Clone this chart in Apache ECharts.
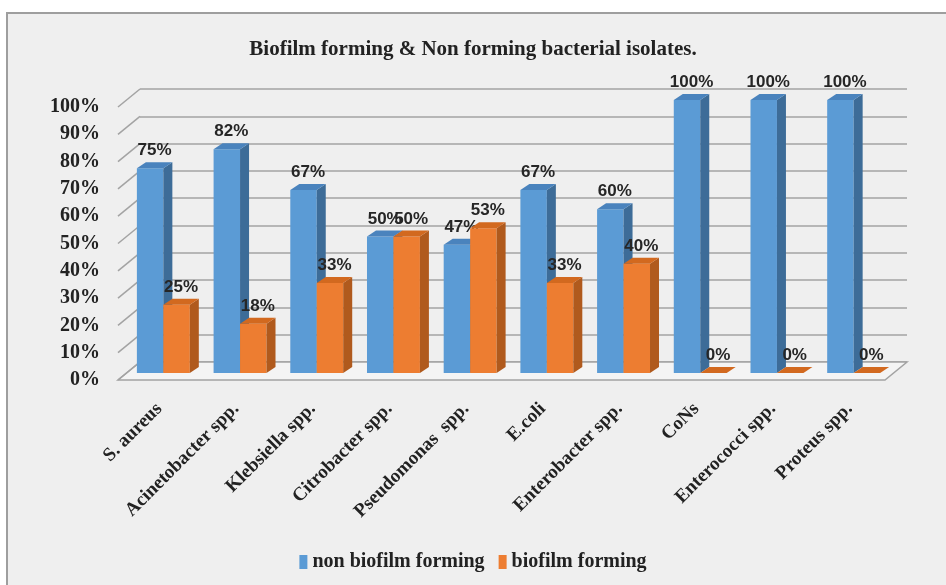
<!DOCTYPE html>
<html><head><meta charset="utf-8">
<script src="https://cdn.jsdelivr.net/npm/echarts@6/dist/echarts.min.js"></script>
<style>html,body{margin:0;padding:0;background:#fff}#c{width:946px;height:585px}</style>
</head><body><div id="c"></div>
<script>
const categories = ['S. aureus','Acinetobacter spp.','Klebsiella spp.','Citrobacter spp.','Pseudomonas  spp.','E.coli','Enterobacter spp.','CoNs','Enterococci spp.','Proteus spp.'];
const nonBiofilm = [75,82,67,50,47,67,60,100,100,100];
const biofilm = [25,18,33,50,53,33,40,0,0,0];
const yTicks = [0,10,20,30,40,50,60,70,80,90,100];

const SERIF = '"Liberation Serif","Times New Roman",serif';
const DEPTH = [22,-18];
const BD = [9,-6];

function barRenderer(side, cFront, cSide, cTop) {
  return function(params, api) {
    const cat = api.value(0), v = api.value(1);
    const base = api.coord([cat, 0]);
    const top = api.coord([cat, v]);
    const cw = api.size([1, 0])[0];
    const w = cw * 0.345;
    const x0 = side === 0 ? base[0] - w : base[0];
    const yt = top[1], yb = base[1];
    const ch = [];
    if (yb - yt > 0.5) {
      ch.push({type:'rect', shape:{x:x0, y:yt, width:w, height:yb-yt}, style:{fill:cFront}});
      ch.push({type:'polygon', shape:{points:[[x0+w,yt],[x0+w+BD[0],yt+BD[1]],[x0+w+BD[0],yb+BD[1]],[x0+w,yb]]}, style:{fill:cSide}});
    }
    ch.push({type:'polygon', shape:{points:[[x0,yt],[x0+BD[0],yt+BD[1]],[x0+w+BD[0],yt+BD[1]],[x0+w,yt]]}, style:{fill:cTop}});
    ch.push({type:'text', style:{text:v+'%', x:x0+w/2+BD[0]/2, y:yt+BD[1]-3, textAlign:'center', textVerticalAlign:'bottom',
      font:'bold 17px "Liberation Sans", Arial, sans-serif', fill:'#262626'}});
    return {type:'group', children:ch};
  };
}

const chart = echarts.init(document.getElementById('c'), null, {renderer:'canvas'});
chart.setOption({
  backgroundColor:'#ffffff',
  animation:false,
  graphic:[{type:'rect', z:-10, shape:{x:7,y:13,width:960,height:600}, style:{fill:'#efefef', stroke:'#9e9e9e', lineWidth:2}}],
  title:{text:'Biofilm forming & Non forming bacterial isolates.', left:'center', top:34,
    textStyle:{fontFamily:SERIF, fontWeight:'bold', fontSize:21, color:'#222'}},
  legend:{bottom:8, left:'center', itemWidth:8, itemHeight:14, itemGap:14,
    textStyle:{fontFamily:SERIF, fontWeight:'bold', fontSize:20, color:'#222'},
    data:[{name:'non biofilm forming', icon:'rect', itemStyle:{color:'#5b9bd5'}},{name:'biofilm forming', icon:'rect', itemStyle:{color:'#ed7d31'}}]},
  grid:[
    {left:118, right:61, top:107, bottom:205},
    {left:140, right:39, top:89, bottom:223},
    {left:125, right:54, top:100, bottom:212},
    {left:121, right:58, top:100, bottom:212}
  ],
  xAxis:[
    {gridIndex:0, type:'category', data:categories, show:false},
    {gridIndex:1, type:'category', data:categories, show:false},
    {gridIndex:2, type:'category', data:categories, show:false},
    {gridIndex:3, type:'category', data:categories, axisLine:{show:false}, axisTick:{show:false},
      axisLabel:{interval:0, rotate:45, margin:33, fontFamily:SERIF, fontWeight:'bold', fontSize:19, color:'#222'}}
  ],
  yAxis:[
    {gridIndex:0, type:'value', min:0, max:100, interval:10, axisLine:{show:false}, axisTick:{show:false}, splitLine:{show:false},
      axisLabel:{formatter:'{value}%', margin:18, fontFamily:SERIF, fontWeight:'bold', fontSize:20, color:'#222'}},
    {gridIndex:1, type:'value', min:0, max:100, interval:10, axisLine:{show:false}, axisTick:{show:false}, axisLabel:{show:false},
      splitLine:{lineStyle:{color:'#a3a3a3', width:1.5}}},
    {gridIndex:2, type:'value', min:0, max:100, interval:10, show:false},
    {gridIndex:3, type:'value', min:0, max:100, interval:10, show:false}
  ],
  series:[
    {type:'custom', xAxisIndex:0, yAxisIndex:0, silent:true, z:1, data:[[0,0]],
      renderItem:function(params, api){
        const cs = params.coordSys;
        const yb = cs.y + cs.height;
        return {type:'polygon', shape:{points:[[cs.x,yb],[cs.x+cs.width,yb],[cs.x+cs.width+DEPTH[0],yb+DEPTH[1]],[cs.x+DEPTH[0],yb+DEPTH[1]]]},
          style:{fill:'#f4f4f4', stroke:'#a3a3a3', lineWidth:1.5}};
      }},
    {type:'custom', xAxisIndex:0, yAxisIndex:0, silent:true, z:1, data:yTicks.map(v=>[0,v]), encode:{x:0,y:1},
      renderItem:function(params, api){
        const cs = params.coordSys;
        const y = api.coord([0, api.value(1)])[1];
        return {type:'line', shape:{x1:cs.x, y1:y, x2:cs.x+DEPTH[0], y2:y+DEPTH[1]}, style:{stroke:'#a3a3a3', lineWidth:1.5}};
      }},
    {name:'non biofilm forming', type:'custom', xAxisIndex:2, yAxisIndex:2, z:3, encode:{x:0,y:1},
      itemStyle:{color:'#5b9bd5'},
      data:nonBiofilm.map((v,i)=>[i,v]),
      renderItem:barRenderer(0,'#5b9bd5','#3d6c98','#4a83bd')},
    {name:'biofilm forming', type:'custom', xAxisIndex:2, yAxisIndex:2, z:4, encode:{x:0,y:1},
      itemStyle:{color:'#ed7d31'},
      data:biofilm.map((v,i)=>[i,v]),
      renderItem:barRenderer(1,'#ed7d31','#b05a1d','#d2691f')}
  ]
});
</script></body></html>
